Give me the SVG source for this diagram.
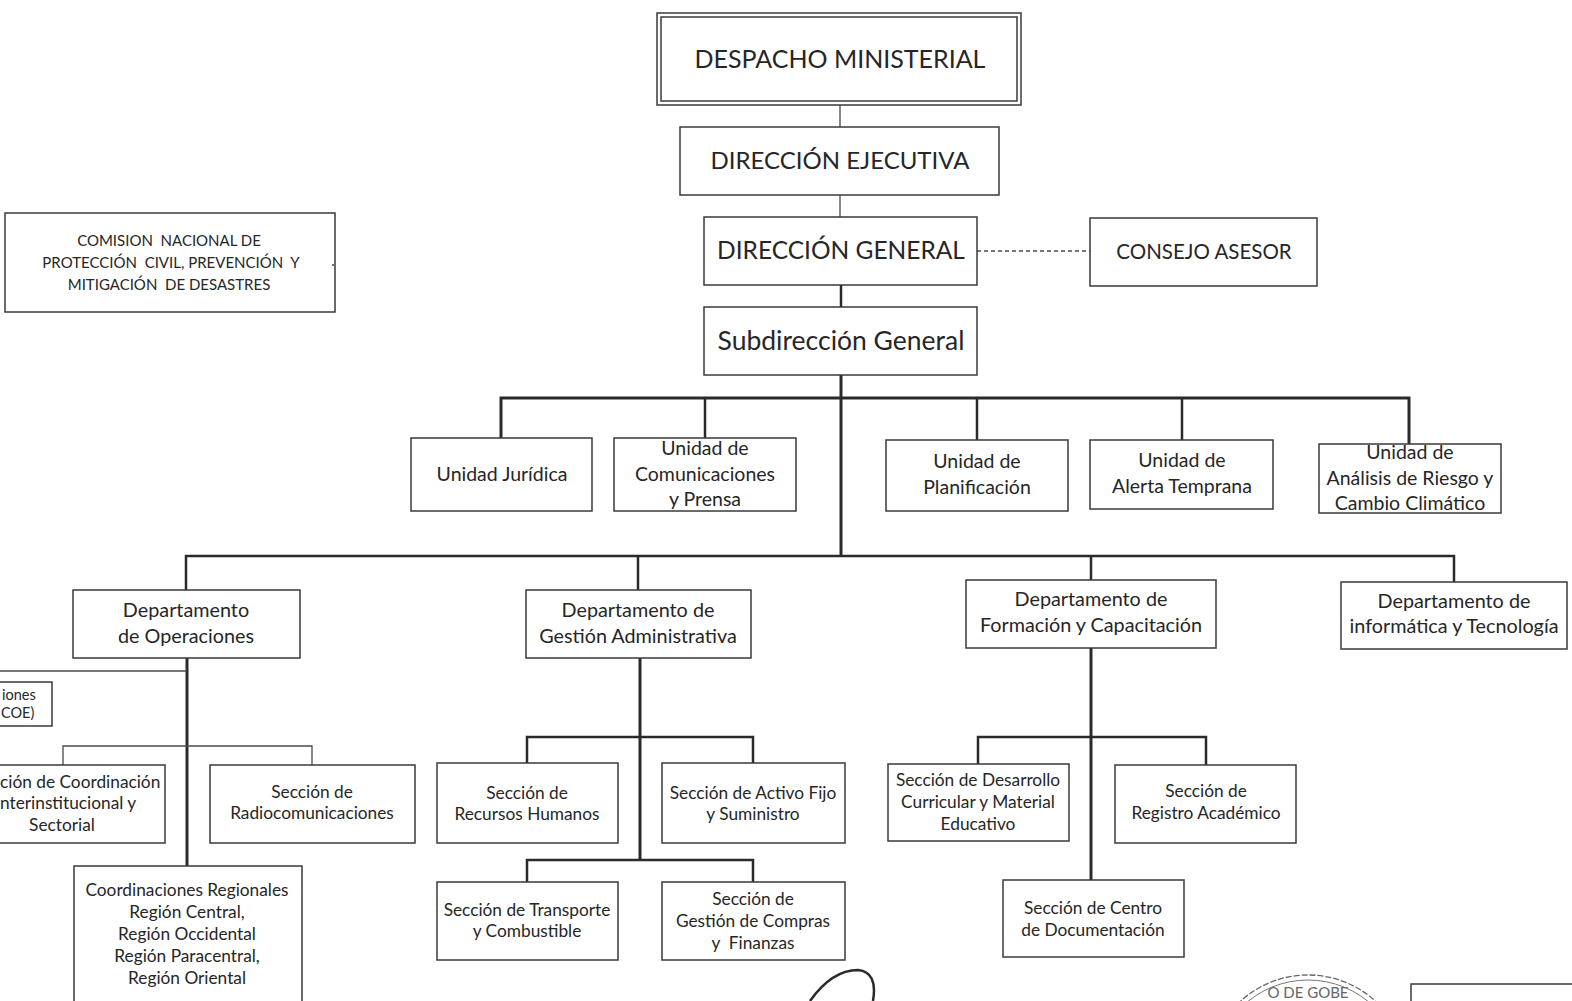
<svg xmlns="http://www.w3.org/2000/svg" width="1572" height="1001" viewBox="0 0 1572 1001">
<defs>
<style>
.box{fill:#fff;stroke:#3a3a3a;stroke-width:1.5}
.t{font-family:Lato,"Open Sans","Liberation Sans",sans-serif;fill:#262626;text-anchor:middle}
.xl{font-size:24px}
.u{font-size:19.5px}
.d{font-size:19.8px}
.s{font-size:17.3px}
.xs{font-size:15px}
.thick{stroke:#2a2a2a;stroke-width:3;fill:none}
.mid{stroke:#2a2a2a;stroke-width:2.5;fill:none}
.thin{stroke:#4a4a4a;stroke-width:1.3;fill:none}
</style>
</defs>
<rect width="1572" height="1001" fill="#fff"/>

<g id="connectors">
<line class="thin" x1="840" y1="105" x2="840" y2="127"/>
<line class="thin" x1="840" y1="195" x2="840" y2="217"/>
<line class="mid" x1="841" y1="285" x2="841" y2="307"/>
<line class="thin" x1="977" y1="251" x2="1090" y2="251" stroke-dasharray="4 3"/>
<line class="thick" x1="841" y1="375" x2="841" y2="556"/>
<polyline class="thick" points="501,438 501,398 1409,398 1409,444"/>
<line class="mid" x1="705" y1="398" x2="705" y2="438"/>
<line class="mid" x1="977" y1="398" x2="977" y2="440"/>
<line class="mid" x1="1182" y1="398" x2="1182" y2="440"/>
<polyline class="mid" points="186,590 186,556 1454,556 1454,582"/>
<line class="mid" x1="638" y1="556" x2="638" y2="590"/>
<line class="mid" x1="1091" y1="556" x2="1091" y2="580"/>
<line class="thick" x1="187" y1="658" x2="187" y2="866"/>
<line class="thin" x1="0" y1="671" x2="187" y2="671"/>
<polyline class="thin" points="63,765 63,746 312,746 312,765"/>
<line class="thick" x1="640" y1="658" x2="640" y2="860"/>
<polyline class="mid" points="527,763 527,737 753,737 753,763"/>
<polyline class="mid" points="527,882 527,860 753,860 753,882"/>
<line class="thick" x1="1091" y1="648" x2="1091" y2="880"/>
<polyline class="mid" points="978,764 978,737 1206,737 1206,765"/>
</g>

<g id="despacho">
<rect class="box" x="657" y="13" width="364" height="92"/>
<rect class="box" x="661" y="17" width="356" height="84"/>
<text class="t xl" x="840" y="68" style="font-size:25px">DESPACHO MINISTERIAL</text>
</g>
<g id="direccion-ejecutiva">
<rect class="box" x="680" y="127" width="319" height="68"/>
<text class="t xl" x="840" y="169">DIRECCIÓN EJECUTIVA</text>
</g>
<g id="direccion-general">
<rect class="box" x="704" y="217" width="273" height="68"/>
<text class="t xl" x="841" y="259" style="font-size:24.5px">DIRECCIÓN GENERAL</text>
</g>
<g id="consejo-asesor">
<rect class="box" x="1090" y="218" width="227" height="68"/>
<text class="t" x="1204" y="259" style="font-size:20.5px">CONSEJO ASESOR</text>
</g>
<g id="subdireccion-general">
<rect class="box" x="704" y="307" width="273" height="68"/>
<text class="t" x="841" y="350" style="font-size:26.5px">Subdirección General</text>
</g>
<g id="comision">
<rect class="box" x="5" y="213" width="330" height="99"/>
<text class="t xs" x="169" y="246" xml:space="preserve">COMISION  NACIONAL DE</text>
<text class="t xs" x="171" y="268" xml:space="preserve">PROTECCIÓN  CIVIL, PREVENCIÓN  Y</text>
<text class="t xs" x="169" y="290" xml:space="preserve">MITIGACIÓN  DE DESASTRES</text>
<circle cx="333" cy="265" r="1" fill="#444"/>
</g>

<g id="unidad-juridica">
<rect class="box" x="411" y="438" width="181" height="73"/>
<text class="t u" x="502" y="481">Unidad Jurídica</text>
</g>
<g id="unidad-comunicaciones">
<rect class="box" x="614" y="438" width="182" height="73"/>
<text class="t u" x="705" y="455">Unidad de</text>
<text class="t u" x="705" y="481">Comunicaciones</text>
<text class="t u" x="705" y="506">y Prensa</text>
</g>
<g id="unidad-planificacion">
<rect class="box" x="886" y="440" width="182" height="71"/>
<text class="t u" x="977" y="468">Unidad de</text>
<text class="t u" x="977" y="494">Planificación</text>
</g>
<g id="unidad-alerta">
<rect class="box" x="1090" y="440" width="183" height="69"/>
<text class="t u" x="1182" y="467">Unidad de</text>
<text class="t u" x="1182" y="493">Alerta Temprana</text>
</g>
<g id="unidad-analisis">
<rect class="box" x="1319" y="444" width="182" height="69"/>
<text class="t u" x="1410" y="459">Unidad de</text>
<text class="t u" x="1410" y="485">Análisis de Riesgo y</text>
<text class="t u" x="1410" y="510">Cambio Climático</text>
</g>

<g id="dep-operaciones">
<rect class="box" x="73" y="590" width="227" height="68"/>
<text class="t d" x="186" y="617">Departamento</text>
<text class="t d" x="186" y="643">de Operaciones</text>
</g>
<g id="dep-gestion">
<rect class="box" x="526" y="590" width="225" height="68"/>
<text class="t d" x="638" y="617">Departamento de</text>
<text class="t d" x="638" y="643">Gestión Administrativa</text>
</g>
<g id="dep-formacion">
<rect class="box" x="966" y="580" width="250" height="68"/>
<text class="t d" x="1091" y="606">Departamento de</text>
<text class="t d" x="1091" y="632">Formación y Capacitación</text>
</g>
<g id="dep-informatica">
<rect class="box" x="1341" y="582" width="226" height="67"/>
<text class="t d" x="1454" y="608">Departamento de</text>
<text class="t d" x="1454" y="633">informática y Tecnología</text>
</g>

<g id="coe">
<rect class="box" x="-10" y="682" width="62" height="44"/>
<text class="t" x="2" y="700" style="text-anchor:start;font-size:14.5px">iones</text>
<text class="t" x="1" y="718" style="text-anchor:start;font-size:14.5px">COE)</text>
</g>
<g id="sec-coordinacion">
<rect class="box" x="-10" y="765" width="175" height="78"/>
<text class="t s" x="0" y="788" style="text-anchor:start">ción de Coordinación</text>
<text class="t s" x="0" y="809" style="text-anchor:start">nterinstitucional y</text>
<text class="t s" x="62" y="831">Sectorial</text>
</g>
<g id="sec-radio">
<rect class="box" x="210" y="765" width="205" height="78"/>
<text class="t s" x="312" y="798">Sección de</text>
<text class="t s" x="312" y="819">Radiocomunicaciones</text>
</g>
<g id="coord-regionales">
<rect class="box" x="74" y="866" width="228" height="150"/>
<text class="t s" x="187" y="896">Coordinaciones Regionales</text>
<text class="t s" x="187" y="918">Región Central,</text>
<text class="t s" x="187" y="940">Región Occidental</text>
<text class="t s" x="187" y="962">Región Paracentral,</text>
<text class="t s" x="187" y="984">Región Oriental</text>
</g>

<g id="sec-rrhh">
<rect class="box" x="437" y="763" width="181" height="80"/>
<text class="t s" x="527" y="799">Sección de</text>
<text class="t s" x="527" y="820">Recursos Humanos</text>
</g>
<g id="sec-activo">
<rect class="box" x="662" y="763" width="183" height="80"/>
<text class="t s" x="753" y="799">Sección de Activo Fijo</text>
<text class="t s" x="753" y="820">y Suministro</text>
</g>
<g id="sec-transporte">
<rect class="box" x="437" y="882" width="181" height="78"/>
<text class="t s" x="527" y="916">Sección de Transporte</text>
<text class="t s" x="527" y="937">y Combustible</text>
</g>
<g id="sec-compras">
<rect class="box" x="662" y="882" width="183" height="78"/>
<text class="t s" x="753" y="905">Sección de</text>
<text class="t s" x="753" y="927">Gestión de Compras</text>
<text class="t s" x="753" y="949" xml:space="preserve">y  Finanzas</text>
</g>

<g id="sec-desarrollo">
<rect class="box" x="888" y="764" width="181" height="77"/>
<text class="t s" x="978" y="786">Sección de Desarrollo</text>
<text class="t s" x="978" y="808">Curricular y Material</text>
<text class="t s" x="978" y="830">Educativo</text>
</g>
<g id="sec-registro">
<rect class="box" x="1115" y="765" width="181" height="78"/>
<text class="t s" x="1206" y="797">Sección de</text>
<text class="t s" x="1206" y="819">Registro Académico</text>
</g>
<g id="sec-centro">
<rect class="box" x="1003" y="880" width="181" height="77"/>
<text class="t s" x="1093" y="914">Sección de Centro</text>
<text class="t s" x="1093" y="936">de Documentación</text>
</g>

<g id="firma-sello">
<path d="M 810 1001 Q 832 970 858 970 Q 878 972 873 1001" fill="none" stroke="#2a2a2a" stroke-width="2.5"/>
<circle cx="1308" cy="1075" r="100" fill="none" stroke="#666" stroke-width="1.3" stroke-dasharray="6 2"/>
<circle cx="1308" cy="1075" r="95" fill="none" stroke="#777" stroke-width="1"/>
<text class="t" x="1308" y="998" style="font-size:15px;fill:#666">O DE GOBE</text>
<rect class="box" x="1411" y="984" width="170" height="40"/>
</g>
</svg>
